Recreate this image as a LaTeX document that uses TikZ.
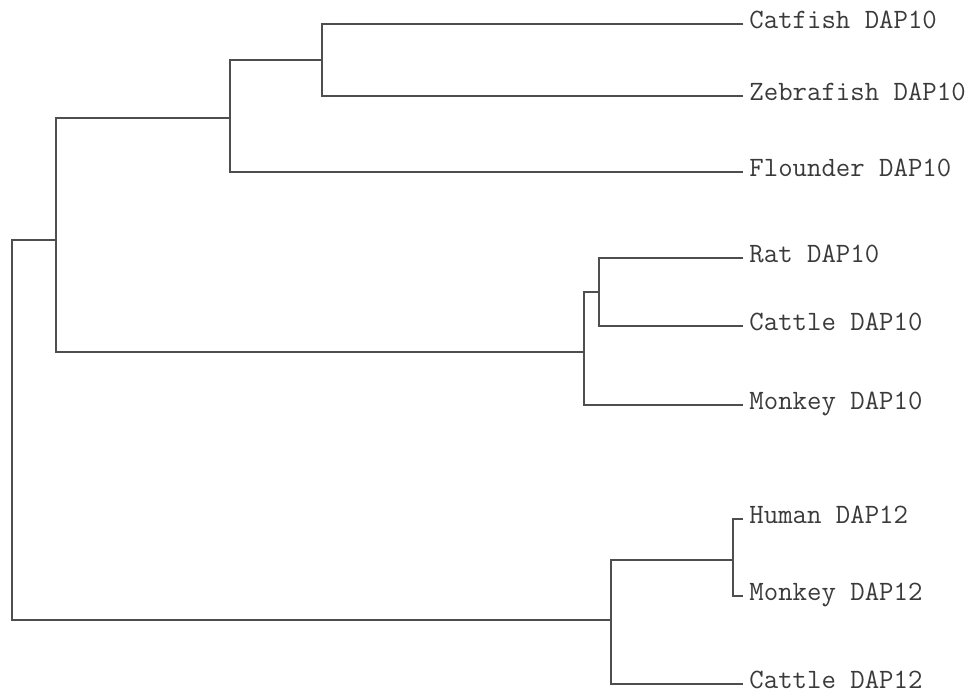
\documentclass[tikz,border=0pt]{standalone}
\usepackage{fontspec}
\usepackage{xcolor}
\usepackage{tikz}
\definecolor{TreeInk}{HTML}{3A3A3A}
\tikzset{
  leaflabel/.style={anchor=mid west,inner xsep=3pt,inner ysep=0pt,font=\ttfamily\fontsize{14}{16}\selectfont,text=TreeInk},
  branch/.style={line width=0.9pt,draw=TreeInk!90}
}

\begin{document}
\begin{tikzpicture}[x=0.5pt,y=-0.5pt]
\useasboundingbox (0,0) rectangle (973,693);
% leaves
\node[leaflabel] (catfish) at (743,24) {Catfish DAP10};
\node[leaflabel] (zebra) at (743,96) {Zebrafish DAP10};
\node[leaflabel] (flounder) at (743,172) {Flounder DAP10};
\node[leaflabel] (rat) at (743,258) {Rat DAP10};
\node[leaflabel] (cattleten) at (743,326) {Cattle DAP10};
\node[leaflabel] (monkeyten) at (743,405) {Monkey DAP10};
\node[leaflabel] (human) at (743,519) {Human DAP12};
\node[leaflabel] (monkeytw) at (743,596) {Monkey DAP12};
\node[leaflabel] (cattletw) at (743,684) {Cattle DAP12};
% internal nodes
\coordinate (fishpair) at (322,60);
\coordinate (fishes) at (230,118);
\coordinate (ratcattle) at (599,292);
\coordinate (mammals) at (584,352);
\coordinate (daptenall) at (56,240);
\coordinate (humanmonkey) at (733,560);
\coordinate (daptwall) at (611,620);
\coordinate (root) at (12,430);
% branches
\draw[branch] (catfish.mid west) -| (fishpair) |- (zebra.mid west);
\draw[branch] (fishpair) -| (fishes) |- (flounder.mid west);
\draw[branch] (rat.mid west) -| (ratcattle) |- (cattleten.mid west);
\draw[branch] (ratcattle) -| (mammals) |- (monkeyten.mid west);
\draw[branch] (fishes) -| (daptenall) |- (mammals);
\draw[branch] (human.mid west) -| (humanmonkey) |- (monkeytw.mid west);
\draw[branch] (humanmonkey) -| (daptwall) |- (cattletw.mid west);
\draw[branch] (daptenall) -| (root) |- (daptwall);
\end{tikzpicture}
\end{document}
